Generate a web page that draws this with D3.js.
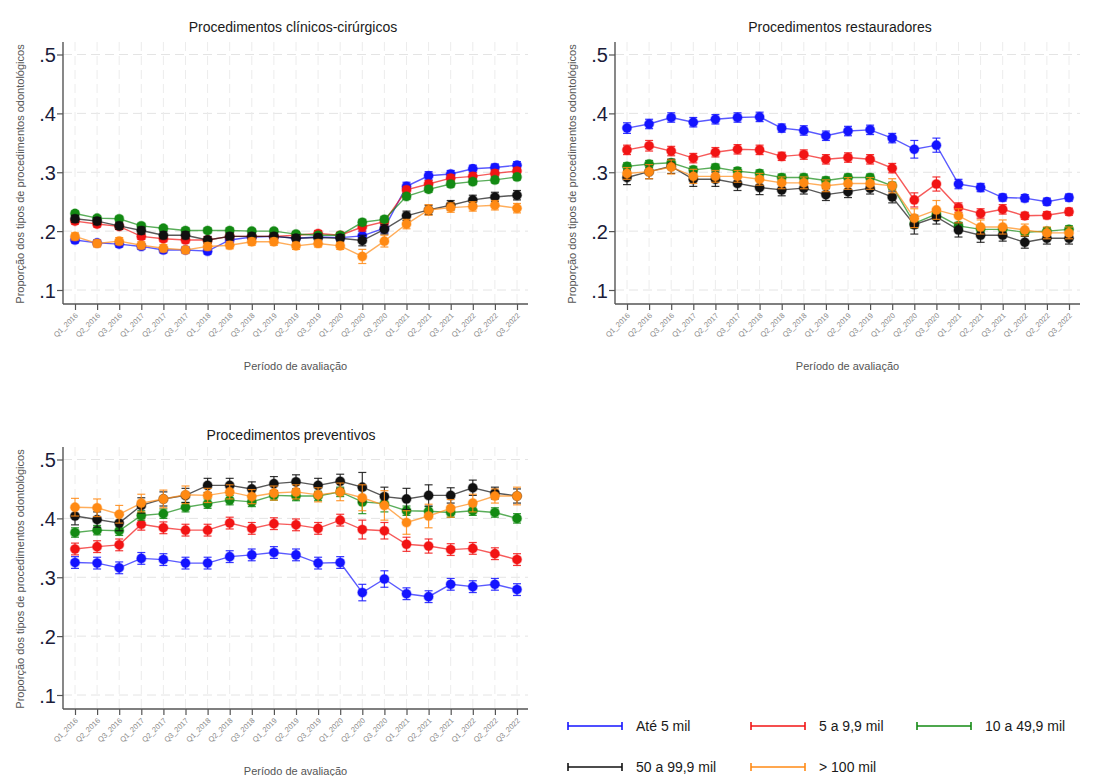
<!DOCTYPE html>
<html lang="pt">
<head>
<meta charset="utf-8">
<title>Proporção dos tipos de procedimentos odontológicos</title>
<script src="https://cdn.jsdelivr.net/npm/d3@7/dist/d3.min.js"></script>
<style>
  html, body { margin: 0; padding: 0; background: #fff; }
  svg { display: block; font-family: "Liberation Sans", Arial, sans-serif; }
</style>
</head>
<body>
<svg id="chart" width="1094" height="776"></svg>
<script>
// Quarterly periods on the x axis
const periods = [
  "Q1_2016","Q2_2016","Q3_2016","Q1_2017","Q2_2017","Q3_2017","Q1_2018",
  "Q2_2018","Q3_2018","Q1_2019","Q2_2019","Q3_2019","Q1_2020","Q2_2020",
  "Q3_2020","Q1_2021","Q2_2021","Q3_2021","Q1_2022","Q2_2022","Q3_2022"
];

// Population size groups (legend order)
const groups = ["Até 5 mil", "5 a 9,9 mil", "10 a 49,9 mil", "50 a 99,9 mil", "> 100 mil"];
const groupColors = ["#1414ff", "#f21414", "#138a13", "#111111", "#ff8a14"];

const panelTitles = ["Procedimentos clínicos-cirúrgicos", "Procedimentos restauradores", "Procedimentos preventivos"];
const yTicks = [0.1, 0.2, 0.3, 0.4, 0.5];
const yTickLabels = [".1", ".2", ".3", ".4", ".5"];
const yTitle = "Proporção dos tipos de procedimentos odontológicos";
const xTitle = "Período de avaliação";

// Clinical-surgical procedures: point estimates
const clinAte5  = [0.185,0.180,0.178,0.174,0.168,0.168,0.166,0.185,0.190,0.191,0.188,0.190,0.189,0.192,0.205,0.276,0.294,0.297,0.306,0.308,0.312];
const clin5a10  = [0.217,0.212,0.208,0.191,0.187,0.185,0.185,0.191,0.191,0.191,0.193,0.196,0.193,0.207,0.216,0.270,0.280,0.290,0.293,0.298,0.302];
const clin10a50 = [0.230,0.222,0.221,0.209,0.205,0.201,0.201,0.201,0.200,0.200,0.195,0.193,0.193,0.215,0.220,0.259,0.271,0.280,0.284,0.287,0.292];
const clin50a100= [0.221,0.217,0.209,0.201,0.193,0.193,0.185,0.191,0.191,0.191,0.188,0.189,0.188,0.184,0.203,0.226,0.236,0.244,0.253,0.258,0.261];
const clin100   = [0.191,0.179,0.183,0.176,0.171,0.168,0.174,0.176,0.182,0.182,0.175,0.179,0.175,0.157,0.183,0.212,0.236,0.240,0.242,0.244,0.239];
// Clinical-surgical procedures: confidence interval half-widths
const clinAte5Err  = [0.005,0.005,0.005,0.005,0.005,0.005,0.005,0.005,0.005,0.005,0.005,0.005,0.005,0.008,0.008,0.007,0.007,0.006,0.006,0.006,0.006];
const clin5a10Err  = [0.005,0.005,0.005,0.005,0.005,0.005,0.005,0.005,0.005,0.005,0.005,0.005,0.005,0.007,0.006,0.006,0.006,0.006,0.006,0.006,0.006];
const clin10a50Err = [0.004,0.004,0.004,0.004,0.004,0.004,0.004,0.004,0.004,0.004,0.004,0.004,0.004,0.005,0.005,0.005,0.005,0.005,0.005,0.005,0.005];
const clin50a100Err= [0.006,0.006,0.006,0.006,0.006,0.006,0.006,0.006,0.006,0.006,0.006,0.006,0.006,0.009,0.008,0.008,0.008,0.008,0.008,0.008,0.008];
const clin100Err   = [0.006,0.006,0.006,0.006,0.006,0.006,0.006,0.006,0.006,0.006,0.006,0.006,0.006,0.012,0.010,0.008,0.009,0.008,0.008,0.008,0.008];

// Restorative procedures: point estimates
const restAte5  = [0.375,0.382,0.393,0.385,0.390,0.393,0.394,0.375,0.371,0.362,0.370,0.372,0.358,0.339,0.346,0.280,0.274,0.257,0.256,0.250,0.257];
const rest5a10  = [0.338,0.345,0.336,0.324,0.334,0.339,0.338,0.327,0.330,0.322,0.325,0.322,0.307,0.253,0.280,0.240,0.230,0.237,0.226,0.227,0.233];
const rest10a50 = [0.310,0.314,0.316,0.304,0.308,0.302,0.298,0.291,0.291,0.286,0.291,0.291,0.277,0.213,0.229,0.209,0.203,0.203,0.198,0.200,0.203];
const rest50a100= [0.291,0.301,0.310,0.288,0.288,0.281,0.274,0.270,0.273,0.262,0.267,0.273,0.258,0.211,0.224,0.202,0.193,0.193,0.181,0.188,0.188];
const rest100   = [0.298,0.301,0.309,0.293,0.293,0.293,0.288,0.282,0.282,0.277,0.281,0.281,0.277,0.222,0.236,0.226,0.207,0.207,0.202,0.197,0.197];
// Restorative procedures: confidence interval half-widths
const restAte5Err  = [0.009,0.008,0.008,0.008,0.008,0.008,0.008,0.007,0.008,0.008,0.008,0.008,0.008,0.015,0.012,0.008,0.007,0.006,0.006,0.006,0.006];
const rest5a10Err  = [0.008,0.009,0.008,0.008,0.008,0.008,0.008,0.007,0.008,0.008,0.008,0.008,0.008,0.012,0.012,0.008,0.008,0.008,0.006,0.006,0.006];
const rest10a50Err = [0.006,0.006,0.006,0.006,0.006,0.006,0.006,0.006,0.006,0.006,0.006,0.006,0.006,0.008,0.008,0.006,0.006,0.006,0.006,0.006,0.006];
const rest50a100Err= [0.012,0.012,0.012,0.012,0.012,0.012,0.012,0.010,0.010,0.010,0.010,0.010,0.010,0.016,0.012,0.012,0.012,0.010,0.010,0.010,0.010];
const rest100Err   = [0.010,0.012,0.012,0.012,0.010,0.010,0.010,0.010,0.010,0.010,0.010,0.010,0.012,0.016,0.016,0.012,0.012,0.012,0.010,0.010,0.010];

// Preventive procedures: point estimates
const prevAte5  = [0.325,0.324,0.316,0.332,0.330,0.324,0.324,0.335,0.338,0.342,0.338,0.324,0.325,0.274,0.297,0.272,0.267,0.288,0.284,0.288,0.279];
const prev5a10  = [0.348,0.352,0.355,0.390,0.384,0.380,0.380,0.392,0.383,0.391,0.389,0.383,0.397,0.381,0.379,0.356,0.353,0.347,0.349,0.340,0.330];
const prev10a50 = [0.376,0.380,0.379,0.405,0.408,0.419,0.425,0.431,0.428,0.439,0.438,0.438,0.445,0.428,0.425,0.413,0.412,0.410,0.413,0.410,0.400];
const prev50a100= [0.404,0.398,0.392,0.422,0.433,0.439,0.456,0.456,0.450,0.459,0.462,0.456,0.463,0.453,0.437,0.433,0.439,0.439,0.452,0.443,0.438];
const prev100   = [0.419,0.418,0.407,0.426,0.433,0.440,0.439,0.445,0.437,0.443,0.445,0.440,0.445,0.435,0.422,0.393,0.404,0.417,0.426,0.438,0.438];
// Preventive procedures: confidence interval half-widths
const prevAte5Err  = [0.010,0.010,0.010,0.010,0.010,0.010,0.010,0.010,0.010,0.010,0.010,0.010,0.010,0.014,0.014,0.010,0.010,0.010,0.010,0.010,0.010];
const prev5a10Err  = [0.010,0.010,0.010,0.010,0.010,0.010,0.010,0.010,0.010,0.010,0.010,0.010,0.010,0.016,0.014,0.012,0.012,0.010,0.010,0.010,0.010];
const prev10a50Err = [0.008,0.008,0.008,0.008,0.008,0.008,0.008,0.008,0.008,0.008,0.008,0.008,0.008,0.020,0.014,0.008,0.008,0.008,0.008,0.008,0.008];
const prev50a100Err= [0.015,0.013,0.013,0.013,0.012,0.012,0.012,0.012,0.012,0.012,0.012,0.012,0.012,0.025,0.016,0.018,0.018,0.013,0.013,0.010,0.012];
const prev100Err   = [0.015,0.015,0.015,0.015,0.015,0.015,0.012,0.012,0.012,0.012,0.012,0.012,0.015,0.022,0.025,0.020,0.020,0.015,0.015,0.012,0.015];

const panelSeries = [
  [[clinAte5, clinAte5Err], [clin5a10, clin5a10Err], [clin10a50, clin10a50Err], [clin50a100, clin50a100Err], [clin100, clin100Err]],
  [[restAte5, restAte5Err], [rest5a10, rest5a10Err], [rest10a50, rest10a50Err], [rest50a100, rest50a100Err], [rest100, rest100Err]],
  [[prevAte5, prevAte5Err], [prev5a10, prev5a10Err], [prev10a50, prev10a50Err], [prev50a100, prev50a100Err], [prev100, prev100Err]]
];

// Panel frames (plot region edges and text anchors)
const frames = [
  { left: 63,  right: 528,  top: 42,  titleX: 293, titleY: 32,  yTitleX: 20 },
  { left: 615, right: 1080, top: 42,  titleX: 840, titleY: 32,  yTitleX: 572 },
  { left: 63,  right: 528,  top: 447, titleX: 291, titleY: 440, yTitleX: 20 }
];

const svg = d3.select("#chart");
const drawOrder = [0, 1, 2, 3, 4];

frames.forEach((f, pi) => {
  const bottom = f.top + 262;
  const x = d3.scalePoint().domain(periods).range([f.left + 12, f.right - 11]);
  const y = d3.scaleLinear().domain([0.1, 0.5]).range([f.top + 248, f.top + 12.5]);
  const g = svg.append("g");

  // Dashed grid
  g.append("g").selectAll("line.hg").data(yTicks).join("line")
    .attr("x1", f.left).attr("x2", f.right)
    .attr("y1", d => y(d)).attr("y2", d => y(d))
    .attr("stroke", "#e4e4e4").attr("stroke-width", 1).attr("stroke-dasharray", "9,5");
  g.append("g").selectAll("line.vg").data(periods).join("line")
    .attr("x1", d => x(d)).attr("x2", d => x(d))
    .attr("y1", f.top).attr("y2", bottom)
    .attr("stroke", "#ececec").attr("stroke-width", 1).attr("stroke-dasharray", "9,5");

  // Y axis
  const yAxis = d3.axisLeft(y).tickValues(yTicks).tickSize(6)
    .tickFormat((d, i) => yTickLabels[i]);
  const ya = g.append("g").attr("transform", `translate(${f.left},0)`).call(yAxis);
  ya.select(".domain").attr("d", `M-0,${f.top}V${bottom}`).attr("stroke", "#555").attr("stroke-width", 1.4);
  ya.selectAll(".tick line").attr("stroke", "#555").attr("stroke-width", 1.2);
  ya.selectAll(".tick text").attr("font-size", 20).attr("fill", "#1c1c3a")
    .attr("x", -7).attr("dy", "0.36em").attr("font-family", "Liberation Sans, Arial, sans-serif");

  // X axis
  const xAxis = d3.axisBottom(x).tickSize(6).tickSizeOuter(0);
  const xa = g.append("g").attr("transform", `translate(0,${bottom})`).call(xAxis);
  xa.select(".domain").attr("d", `M${f.left},0H${f.right}`).attr("stroke", "#555").attr("stroke-width", 1.4);
  xa.selectAll(".tick line").attr("stroke", "#555").attr("stroke-width", 1.2);
  xa.selectAll(".tick text")
    .attr("font-size", 7.5).attr("fill", "#8a8a8a").attr("text-anchor", "end")
    .attr("font-family", "Liberation Sans, Arial, sans-serif")
    .attr("x", 0).attr("y", 0).attr("dy", 0)
    .attr("transform", "translate(3,12) rotate(-45)");

  // Titles
  g.append("text").attr("x", f.titleX).attr("y", f.titleY).attr("text-anchor", "middle")
    .attr("font-size", 14).attr("fill", "#1a1a1a").text(panelTitles[pi]);
  g.append("text").attr("x", (f.left + f.right) / 2).attr("y", bottom + 66).attr("text-anchor", "middle")
    .attr("font-size", 11).attr("fill", "#555").text(xTitle);
  g.append("text")
    .attr("transform", `translate(${f.yTitleX},${f.top + 132}) rotate(-90)`)
    .attr("text-anchor", "middle").attr("dy", "0.35em")
    .attr("font-size", 11).attr("fill", "#555").text(yTitle);

  // Series: connecting line, CI caps, markers
  drawOrder.forEach(si => {
    const [vals, errs] = panelSeries[pi][si];
    const col = groupColors[si];
    const pts = periods.map((p, i) => ({ p, v: vals[i], e: errs[i] }));
    const sg = g.append("g");

    sg.append("path").datum(pts)
      .attr("fill", "none").attr("stroke", col).attr("stroke-width", 1.4).attr("stroke-opacity", 0.7)
      .attr("d", d3.line().x(d => x(d.p)).y(d => y(d.v)));

    const cap = 4;
    const eb = sg.append("g").attr("stroke", col).attr("stroke-width", 1.2).attr("stroke-opacity", 0.85);
    eb.selectAll("line.v").data(pts).join("line")
      .attr("x1", d => x(d.p)).attr("x2", d => x(d.p))
      .attr("y1", d => y(d.v - d.e)).attr("y2", d => y(d.v + d.e));
    eb.selectAll("line.t").data(pts).join("line")
      .attr("x1", d => x(d.p) - cap).attr("x2", d => x(d.p) + cap)
      .attr("y1", d => y(d.v + d.e)).attr("y2", d => y(d.v + d.e));
    eb.selectAll("line.b").data(pts).join("line")
      .attr("x1", d => x(d.p) - cap).attr("x2", d => x(d.p) + cap)
      .attr("y1", d => y(d.v - d.e)).attr("y2", d => y(d.v - d.e));

    sg.selectAll("circle").data(pts).join("circle")
      .attr("cx", d => x(d.p)).attr("cy", d => y(d.v)).attr("r", 4.6)
      .attr("fill", col).attr("stroke", col).attr("stroke-opacity", 0.35).attr("stroke-width", 1.4);
  });
});

// Legend (capped-line keys)
const legendItems = [
  { i: 0, x: 568, y: 726 }, { i: 1, x: 751, y: 726 }, { i: 2, x: 917, y: 726 },
  { i: 3, x: 568, y: 767 }, { i: 4, x: 751, y: 767 }
];
const lg = svg.append("g");
legendItems.forEach(it => {
  const col = groupColors[it.i];
  const k = lg.append("g").attr("stroke", col).attr("stroke-width", 1.6);
  k.append("line").attr("x1", it.x).attr("x2", it.x + 54).attr("y1", it.y).attr("y2", it.y);
  k.append("line").attr("x1", it.x).attr("x2", it.x).attr("y1", it.y - 4).attr("y2", it.y + 4);
  k.append("line").attr("x1", it.x + 54).attr("x2", it.x + 54).attr("y1", it.y - 4).attr("y2", it.y + 4);
  lg.append("text").attr("x", it.x + 68).attr("y", it.y).attr("dy", "0.36em")
    .attr("font-size", 14).attr("fill", "#1a1a1a").text(groups[it.i]);
});
</script>
</body>
</html>
